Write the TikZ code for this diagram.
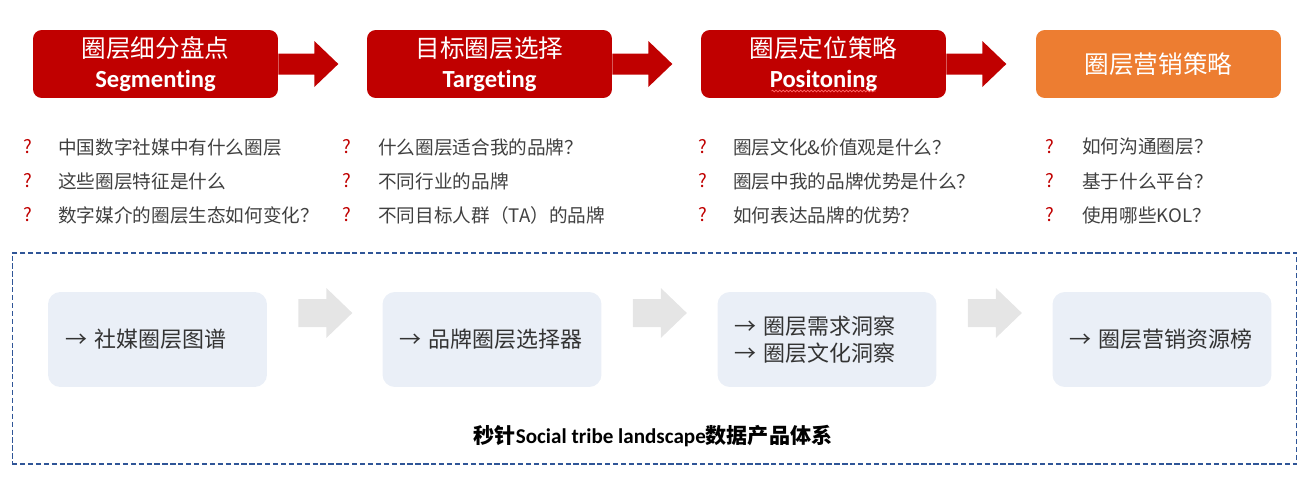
\documentclass[tikz,border=0pt]{standalone}
\usepackage{fontspec}
\setmainfont{Carlito}[Ligatures=NoCommon]
\newfontfamily\cjk{Noto Sans CJK SC}
\usetikzlibrary{positioning, calc, decorations.pathmorphing}

\definecolor{hred}{RGB}{192,0,0}
\definecolor{horange}{RGB}{237,125,49}
\definecolor{boxblue}{RGB}{234,239,247}
\definecolor{frameblue}{RGB}{47,85,151}
\definecolor{qgray}{RGB}{64,64,64}

\begin{document}
\begin{tikzpicture}[
  x=0.02cm, y=-0.02cm,
  hbox/.style={rounded corners=5pt, minimum width=4.9cm, minimum height=1.36cm,
               inner sep=0pt, align=center, text=white, font=\fontsize{14}{17}\selectfont},
  qmark/.style={text=hred, font=\cjk\fontsize{10.5}{12}\selectfont, inner sep=0pt},
  qtext/.style={anchor=west, text=qgray, font=\cjk\fontsize{10.6}{12}\selectfont, inner sep=0pt},
  pbox/.style={fill=boxblue, rounded corners=7pt, minimum width=4.38cm, minimum height=1.9cm,
               text width=3.7cm, inner xsep=0.34cm, align=left, text=black!80,
               font=\cjk\fontsize{12.5}{15.3}\selectfont},
  bigarrow/.style={fill=hred},
  grayarrow/.style={fill=gray!20},
]
  \useasboundingbox (0,0) rectangle (1313,487);

  % Stage headers
  \node[hbox, fill=hred]    (s1) at (155.5,64)  {{\cjk 圈层细分盘点}\\\textbf{Segmenting}};
  \node[hbox, fill=hred]    (s2) at (489.5,64)  {{\cjk 目标圈层选择}\\\textbf{Targeting}};
  \node[hbox, fill=hred]    (s3) at (823.5,64)  {{\cjk 圈层定位策略}\\\textbf{Positoning}};
  \node[hbox, fill=horange] (s4) at (1158.5,64) {{\cjk 圈层营销策略}};

  \foreach \s in {s1,s2,s3} {
    \fill[bigarrow] ($(\s.east)+(0,-10.5)$) -- ++(36,0) -- ++(0,-12.5) -- ++(24,23)
      -- ++(-24,23) -- ++(0,-12.5) -- ++(-36,0) -- cycle;
  }
  \draw[red!60, line width=0.4pt, decorate,
        decoration={snake, amplitude=0.5pt, segment length=2pt}]
    ($(s3.center)+(-52,27)$) -- ($(s3.center)+(52,27)$);

  % Questions
  \foreach \t [count=\j] in {中国数字社媒中有什么圈层, 这些圈层特征是什么, 数字媒介的圈层生态如何变化？} {
    \node[qmark] (m1\j) at (28,113+34*\j) {?};
    \node[qtext] (q1\j) at (58,113+34*\j) {\t};
  }
  \foreach \t [count=\j] in {什么圈层适合我的品牌？, 不同行业的品牌, 不同目标人群（TA）的品牌} {
    \node[qmark] (m2\j) at (347,113+34*\j) {?};
    \node[qtext] (q2\j) at (378,113+34*\j) {\t};
  }
  \foreach \t [count=\j] in {圈层文化\&价值观是什么？, 圈层中我的品牌优势是什么？, 如何表达品牌的优势？} {
    \node[qmark] (m3\j) at (703,113+34*\j) {?};
    \node[qtext] (q3\j) at (733,113+34*\j) {\t};
  }
  \foreach \t [count=\j] in {如何沟通圈层？, 基于什么平台？, 使用哪些KOL？} {
    \node[qmark] (m4\j) at (1050,113+34*\j) {?};
    \node[qtext] (q4\j) at (1082,113+34*\j) {\t};
  }

  % Product system frame
  \node[draw=frameblue, line width=0.7pt, dash pattern=on 3pt off 1.5pt,
        minimum width=25.7cm, minimum height=4.22cm, inner sep=0pt] (frame) at (654.5,358.5) {};

  \node[pbox] (pa) at (157.5,339.5) {→ 社媒圈层图谱};
  \node[pbox] (pb) at (492,339.5)   {→ 品牌圈层选择器};
  \node[pbox] (pc) at (827,339.5)   {→ 圈层需求洞察\\→ 圈层文化洞察};
  \node[pbox] (pd) at (1162,339.5)  {→ 圈层营销资源榜};

  \foreach \s in {pa,pb,pc} {
    \fill[grayarrow] ($(\s.east)+(31,-40.5)$) -- ++(28,0) -- ++(0,-11) -- ++(26,25)
      -- ++(-26,25) -- ++(0,-11) -- ++(-28,0) -- cycle;
  }

  \node[font=\fontsize{12}{14}\selectfont\bfseries] (title) at (653,436)
    {{\cjk 秒针}Social tribe landscape{\cjk 数据产品体系}};
\end{tikzpicture}
\end{document}
